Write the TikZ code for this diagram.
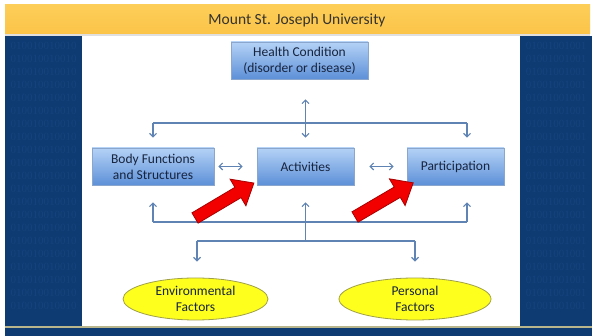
\documentclass[tikz,border=0pt]{standalone}
\usepackage{fontspec}
\setmainfont{Carlito}
\newfontfamily\digitfont{Liberation Serif}
\usetikzlibrary{arrows.meta,shadows}
\definecolor{panelblue}{HTML}{0F3B73}
\definecolor{digitblue}{HTML}{16437B}
\definecolor{headgold}{HTML}{FBC448}
\definecolor{headgoldtop}{HTML}{FDCE58}
\definecolor{titlegray}{HTML}{35332F}
\definecolor{boxtop}{HTML}{B4D2F6}
\definecolor{boxbottom}{HTML}{5D90D8}
\definecolor{boxline}{HTML}{8AA6CC}
\definecolor{boxtext}{HTML}{17243E}
\definecolor{linkblue}{HTML}{5F83B2}
\definecolor{ellfill}{HTML}{FFFF1E}
\definecolor{ellline}{HTML}{A0A048}
\definecolor{redfill}{HTML}{F20000}
\definecolor{redline}{HTML}{A80000}
\definecolor{rulegold}{HTML}{B8B48C}
\tikzset{
  box/.style={draw=boxline, line width=0.6pt, top color=boxtop, bottom color=boxbottom,
    text=boxtext, font=\fontsize{13.5}{16}\selectfont, align=center, inner sep=0pt,
    drop shadow={shadow xshift=1.2pt, shadow yshift=-1.2pt, opacity=0.25}},
  factor/.style={ellipse, draw=ellline, line width=0.8pt, fill=ellfill, text=boxtext,
    font=\fontsize{13.5}{16}\selectfont, align=center, inner sep=0pt},
  link/.style={draw=linkblue, line width=1.3pt},
  tip/.style={-{Straight Barb[length=3.5pt,width=7pt,line width=1.2pt]}},
  bothtips/.style={{Straight Barb[length=3.5pt,width=7pt,line width=1.2pt]}-{Straight Barb[length=3.5pt,width=7pt,line width=1.2pt]}},
  digits/.style={text=digitblue, font=\digitfont\fontsize{11}{11}\selectfont, inner sep=0pt},
  blockarrow/.style={fill=redfill, draw=redline, line width=0.8pt, line join=miter},
}
\usetikzlibrary{shapes.geometric}
\begin{document}
\begin{tikzpicture}[x=1pt,y=-1pt]
\useasboundingbox (0,0) rectangle (592,336);
\fill[white] (0,0) rectangle (592,336);

% slide background with a faint binary texture
\fill[panelblue] (5,36) rectangle (592,336);
\foreach \r in {0,...,20} {
  \pgfmathsetmacro{\yy}{46+13*\r}
  \node[digits] (binL\r) at (43.5,\yy) {010010010010};
  \node[digits] (binR\r) at (556,\yy) {01001001001};
}
\fill[white] (82,36) rectangle (520,326);
\fill[rulegold] (5,326) rectangle (592,328);

% header band
\shade[top color=headgoldtop, bottom color=headgold] (5,5) rectangle (590,34);
\fill[gray!25] (5,34) rectangle (590,36);
\node[text=titlegray, font=\fontsize{15.5}{18}\selectfont] (title) at (297,20) {Mount St. Joseph University};

% ICF components
\node[box, minimum width=137pt, minimum height=37pt] (health) at (299.5,60.5) {Health Condition\\(disorder or disease)};
\node[box, minimum width=122pt, minimum height=37pt] (body) at (153,166.5) {Body Functions\\and Structures};
\node[box, minimum width=97pt, minimum height=37pt] (act) at (305.5,166.5) {Activities};
\node[box, minimum width=97pt, minimum height=37pt] (part) at (455.5,166.5) {Participation};
\node[factor, minimum width=145pt, minimum height=42pt] (env) at (195.5,299) {Environmental\\Factors};
\node[factor, minimum width=152pt, minimum height=42pt] (pers) at (415,299) {Personal\\Factors};

% upper distribution bar
\coordinate (topL) at (153,123);
\coordinate (topR) at (467,123);
\draw[link] (topL) -- (topR);
\draw[link, tip, shorten >=10pt] (topL) -- (topL |- body.north);
\draw[link, tip, shorten >=10pt] (topR) -- (topR |- part.north);
\draw[link, bothtips, shorten <=20pt, shorten >=10pt] (act.north |- health.south) -- (act.north);

% side-by-side interactions
\draw[link, bothtips, shorten <=4pt, shorten >=14pt] (body.east) -- (act.west);
\draw[link, bothtips, shorten <=15pt, shorten >=13pt] (act.east) -- (part.west);

% lower collection bar
\coordinate (botL) at (153,222);
\coordinate (botR) at (467,222);
\coordinate (hub) at (305.5,241);
\coordinate (envTop) at (197,241);
\coordinate (persTop) at (415,241);
\draw[link] (botL) -- (botR);
\draw[link, tip, shorten >=17pt] (botL) -- (botL |- body.south);
\draw[link, tip, shorten >=17pt] (botR) -- (botR |- part.south);
\draw[link, tip, shorten >=17pt] (hub) -- (act.south);
\draw[link] (envTop) -- (persTop);
\draw[link, tip, shorten >=16pt] (envTop) -- (envTop |- env.north);
\draw[link, tip, shorten >=16pt] (persTop) -- (persTop |- pers.north);

% highlight arrows
\begin{scope}[shift={(195,218)}, rotate=30.7]
  \draw[blockarrow] (0,-6) -- (50,-6) -- (50,-15.5) -- (68.5,0) -- (50,15.5) -- (50,6) -- (0,6) -- cycle;
\end{scope}
\begin{scope}[shift={(355,217)}, rotate=30.4]
  \draw[blockarrow] (0,-6) -- (49,-6) -- (49,-15.5) -- (67.5,0) -- (49,15.5) -- (49,6) -- (0,6) -- cycle;
\end{scope}
\end{tikzpicture}
\end{document}
